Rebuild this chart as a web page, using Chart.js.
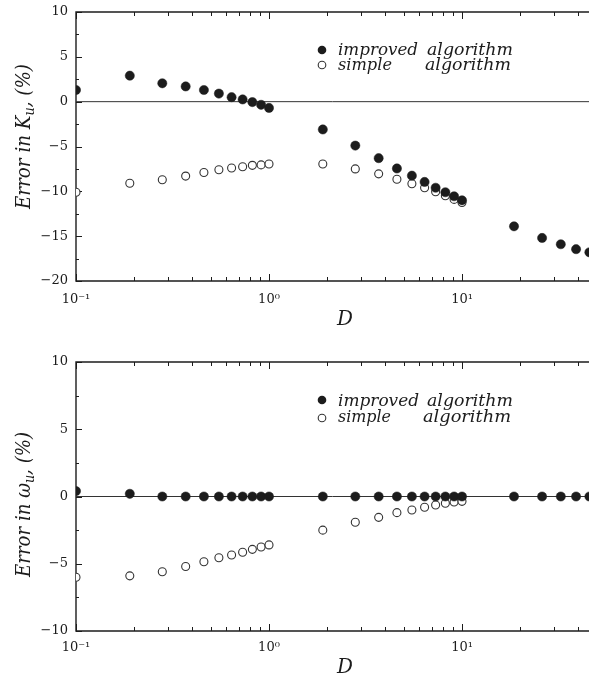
<!DOCTYPE html>
<html>
<head>
<meta charset="utf-8">
<script src="https://cdn.jsdelivr.net/npm/chart.js@4.4.0/dist/chart.umd.min.js"></script>
<style>
  html, body { margin: 0; padding: 0; background: #fff; }
  #wrap { position: relative; width: 589px; height: 674px; overflow: hidden; }
  canvas { position: absolute; left: 0; }
  #c1 { top: 0; }
  #c2 { top: 330px; }
</style>
</head>
<body>
<div id="wrap">
  <canvas id="c1" width="589" height="330"></canvas>
  <canvas id="c2" width="589" height="344"></canvas>
</div>
<script>
// D values on the log axis
var dImproved = [0.1, 0.19, 0.28, 0.37, 0.46, 0.55, 0.64, 0.73, 0.82, 0.91, 1.0,
                 1.9, 2.8, 3.7, 4.6, 5.5, 6.4, 7.3, 8.2, 9.1, 10,
                 18.6, 26, 32.5, 39, 45.7];
var dSimple = [0.1, 0.19, 0.28, 0.37, 0.46, 0.55, 0.64, 0.73, 0.82, 0.91, 1.0,
               1.9, 2.8, 3.7, 4.6, 5.5, 6.4, 7.3, 8.2, 9.1, 10];

// top panel: error in K_u (%)
var improvedKu = [1.3, 2.9, 2.05, 1.7, 1.3, 0.9, 0.5, 0.25, -0.05, -0.35, -0.7,
                  -3.1, -4.9, -6.3, -7.45, -8.25, -8.95, -9.6, -10.1, -10.55, -11.0,
                  -13.9, -15.2, -15.9, -16.45, -16.8];
var simpleKu = [-10.1, -9.1, -8.7, -8.3, -7.9, -7.6, -7.4, -7.25, -7.1, -7.05, -6.95,
                -6.95, -7.5, -8.05, -8.65, -9.15, -9.6, -10.05, -10.5, -10.9, -11.25];

// bottom panel: error in omega_u (%)
var improvedWu = [0.4, 0.2, 0, 0, 0, 0, 0, 0, 0, 0, 0,
                  0, 0, 0, 0, 0, 0, 0, 0, 0, 0,
                  0, 0, 0, 0, 0];
var simpleWu = [-6.0, -5.9, -5.6, -5.2, -4.85, -4.55, -4.35, -4.15, -3.93, -3.75, -3.6,
                -2.5, -1.92, -1.55, -1.2, -1.0, -0.8, -0.63, -0.5, -0.41, -0.36];

// axis labels
var xTickLabels = { '-1': '10\u207B\u00B9', '0': '10\u2070', '1': '10\u00B9' };
var legendNames = [['improved', 'algorithm'], ['simple', 'algorithm']];

var ink = '#1c1c1c';
var tickFont = { family: 'DejaVu Serif', size: 13 };

function pts(xs, ys) {
  return xs.map(function (x, i) { return { x: x, y: ys[i] }; });
}

// draw text pieces side by side, squeezed/stretched to a given width
function drawRuns(ctx, runs, x, y, targetW) {
  var w = 0;
  runs.forEach(function (r) { ctx.font = r.font; r.w = ctx.measureText(r.t).width; w += r.w; });
  var sx = targetW ? targetW / w : 1;
  ctx.save();
  ctx.translate(x, y);
  ctx.scale(sx, 1);
  var cx = 0;
  runs.forEach(function (r) { ctx.font = r.font; ctx.fillText(r.t, cx, r.dy || 0); cx += r.w; });
  ctx.restore();
}

function noPad(s) {
  s.paddingLeft = 0; s.paddingRight = 0; s.paddingTop = 0; s.paddingBottom = 0;
}

function decor(cfg) {
  return {
    id: 'decor',
    beforeDatasetsDraw: function (chart) {
      var ctx = chart.ctx, a = chart.chartArea, xs = chart.scales.x, ys = chart.scales.y;
      ctx.save();
      ctx.strokeStyle = ink;
      ctx.lineWidth = 1.4;
      // frame (right side is cut off by the page)
      ctx.beginPath();
      ctx.moveTo(a.right + 2, a.top);
      ctx.lineTo(a.left, a.top);
      ctx.lineTo(a.left, a.bottom);
      ctx.lineTo(a.right + 2, a.bottom);
      ctx.stroke();
      // zero line
      var y0 = ys.getPixelForValue(0);
      ctx.lineWidth = 1;
      ctx.strokeStyle = '#333';
      ctx.beginPath();
      ctx.moveTo(a.left, y0);
      ctx.lineTo(a.right, y0);
      ctx.stroke();
      // inward ticks
      ctx.strokeStyle = ink;
      xs.ticks.forEach(function (t) {
        var e = Math.floor(Math.log10(t.value) + 1e-9);
        var m = t.value / Math.pow(10, e);
        if (Math.abs(m - Math.round(m)) > 1e-6) return;
        var px = Math.round(xs.getPixelForValue(t.value)) + 0.5;
        var len = Math.abs(m - 1) < 1e-6 ? 7 : 4;
        ctx.beginPath();
        ctx.moveTo(px, a.bottom); ctx.lineTo(px, a.bottom - len);
        ctx.moveTo(px, a.top); ctx.lineTo(px, a.top + len);
        ctx.stroke();
      });
      ys.ticks.forEach(function (t) {
        var py = Math.round(ys.getPixelForValue(t.value)) + 0.5;
        var len = t.value % 5 === 0 ? 6 : 3;
        ctx.beginPath();
        ctx.moveTo(a.left, py); ctx.lineTo(a.left + len, py);
        ctx.stroke();
      });
      ctx.restore();
    },
    afterDraw: function (chart) {
      var ctx = chart.ctx;
      ctx.save();
      ctx.fillStyle = ink;
      ctx.textBaseline = 'alphabetic';
      // y axis title, rotated
      var f = 'italic 20px "DejaVu Serif"', fs = 'italic 14px "DejaVu Serif"';
      ctx.save();
      ctx.translate(30, cfg.titleY);
      ctx.rotate(-Math.PI / 2);
      drawRuns(ctx, [
        { t: 'Error in ', font: f },
        { t: cfg.sym, font: f },
        { t: 'u', font: fs, dy: 4 },
        { t: ', (%)', font: f }
      ], -72, 0, 145);
      ctx.restore();
      // x axis title
      ctx.font = 'italic 20px "DejaVu Serif"';
      ctx.fillText('D', 337, cfg.dY);
      // legend
      var lf = 'italic 16px "DejaVu Serif"';
      cfg.legend.forEach(function (row, i) {
        ctx.beginPath();
        ctx.arc(322, row.my, i === 0 ? 4.3 : 3.8, 0, Math.PI * 2);
        if (i === 0) { ctx.fillStyle = ink; ctx.fill(); }
        else { ctx.strokeStyle = '#333'; ctx.lineWidth = 1.1; ctx.stroke(); }
        ctx.fillStyle = ink;
        drawRuns(ctx, [{ t: legendNames[i][0], font: lf }], 338, row.by, row.w1);
        drawRuns(ctx, [{ t: legendNames[i][1], font: lf }], row.x2, row.by, row.w2);
      });
      ctx.restore();
    }
  };
}

function makePanel(id, yMin, yMax, improved, simple, cfg) {
  return new Chart(document.getElementById(id).getContext('2d'), {
    type: 'scatter',
    data: {
      datasets: [{
        label: 'improved algorithm',
        data: pts(dImproved, improved),
        pointRadius: 4.6,
        pointBackgroundColor: ink,
        pointBorderColor: ink,
        pointBorderWidth: 0.5,
        clip: 0
      }, {
        label: 'simple algorithm',
        data: pts(dSimple, simple),
        pointRadius: 4,
        pointBackgroundColor: '#fff',
        pointBorderColor: '#333',
        pointBorderWidth: 1.1,
        clip: 0
      }]
    },
    options: {
      responsive: false,
      animation: false,
      devicePixelRatio: 1,
      layout: { autoPadding: false, padding: { top: cfg.padTop, left: 0, right: 0, bottom: 0 } },
      plugins: { legend: { display: false }, tooltip: { enabled: false } },
      scales: {
        x: {
          type: 'logarithmic',
          min: 0.1,
          max: 45.5,
          grid: { display: false, drawTicks: false },
          border: { display: false },
          ticks: {
            autoSkip: false,
            maxRotation: 0,
            padding: cfg.xPad,
            font: tickFont,
            color: ink,
            callback: function (v) {
              var e = Math.log10(v);
              if (Math.abs(e - Math.round(e)) < 1e-6) return xTickLabels[String(Math.round(e))] || '';
              return '';
            }
          },
          afterFit: function (s) { s.height = cfg.xAxisH; noPad(s); }
        },
        y: {
          min: yMin,
          max: yMax,
          grid: { display: false, drawTicks: false },
          border: { display: false },
          ticks: {
            stepSize: 2.5,
            padding: 8,
            font: tickFont,
            color: ink,
            callback: function (v) {
              if (v % 5 !== 0) return '';
              return v < 0 ? '\u2212' + Math.abs(v) : String(v);
            }
          },
          afterFit: function (s) { s.width = 76; noPad(s); }
        }
      }
    },
    plugins: [decor(cfg)]
  });
}

makePanel('c1', -20, 10, improvedKu, simpleKu, {
  padTop: 12, xAxisH: 49, xPad: 11, sym: 'K', titleY: 137, dY: 325,
  legend: [
    { my: 50, by: 55, w1: 80, x2: 427, w2: 86 },
    { my: 65, by: 70, w1: 54, x2: 425, w2: 86 }
  ]
});

makePanel('c2', -10, 10, improvedWu, simpleWu, {
  padTop: 32, xAxisH: 43, xPad: 9, sym: '\u03C9', titleY: 175, dY: 343,
  legend: [
    { my: 70, by: 76, w1: 81, x2: 427, w2: 86 },
    { my: 88, by: 92, w1: 53, x2: 423, w2: 88 }
  ]
});
</script>
</body>
</html>
